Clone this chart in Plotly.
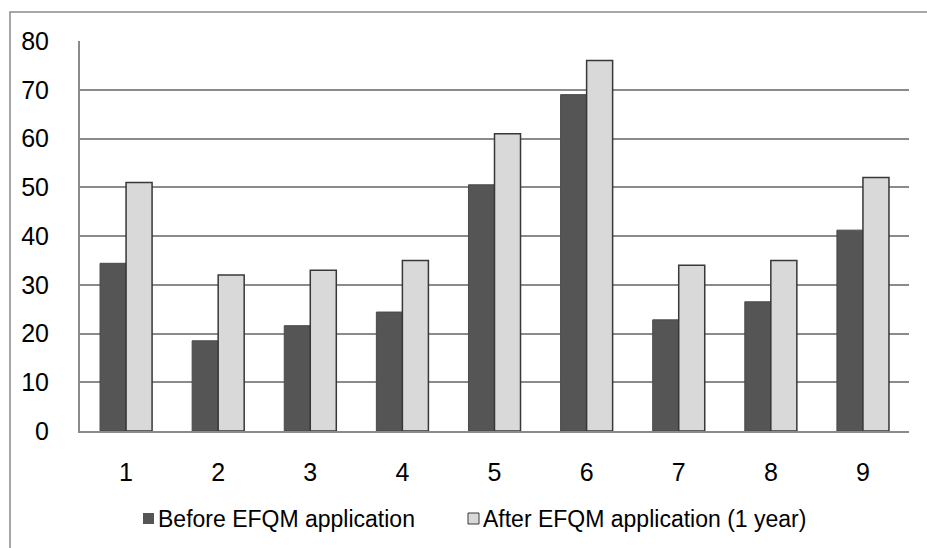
import plotly.graph_objects as go

# Data
categories = ["1", "2", "3", "4", "5", "6", "7", "8", "9"]
before_efqm = [34.4, 18.5, 21.6, 24.4, 50.5, 69.0, 22.8, 26.5, 41.2]
after_efqm = [51, 32, 33, 35, 61, 76, 34, 35, 52]
series_names = ["Before EFQM application", "After EFQM application (1 year)"]
y_ticks = [0, 10, 20, 30, 40, 50, 60, 70, 80]

W, H = 927, 548
M_L, M_R, M_T, M_B = 80, 18, 41, 117
plot_w = W - M_L - M_R
plot_h = H - M_T - M_B


def px_x(x):
    """Page pixel x -> paper x of the plot area."""
    return (x - M_L) / plot_w


def px_y(y):
    """Page pixel y -> paper y of the plot area."""
    return (H - M_B - y) / plot_h


FONT = "Liberation Sans, Arial, sans-serif"
GRID = "#8a8a8a"
DARK = "#555555"
DARK_EDGE = "#4a4a4a"
LIGHT = "#d9d9d9"
LIGHT_EDGE = "#383838"

fig = go.Figure()
fig.add_trace(go.Bar(
    x=categories, y=before_efqm, name=series_names[0],
    marker=dict(color=DARK, line=dict(color=DARK_EDGE, width=1)),
))
fig.add_trace(go.Bar(
    x=categories, y=after_efqm, name=series_names[1],
    marker=dict(color=LIGHT, line=dict(color=LIGHT_EDGE, width=1.5)),
))

shapes = []
annotations = []

# Outer chart-area frame
shapes.append(dict(type="rect", xref="paper", yref="paper",
                   x0=px_x(10), y0=-1.0, x1=1.2, y1=px_y(12),
                   line=dict(color=GRID, width=1.5),
                   fillcolor="rgba(0,0,0,0)", layer="below"))

# Legend: swatch + label for each series
legend_items = [
    (series_names[0], 143, DARK, DARK_EDGE, 0),
    (series_names[1], 468, LIGHT, LIGHT_EDGE, 1),
]
for name, sx, fill, edge, lw in legend_items:
    shapes.append(dict(type="rect", xref="paper", yref="paper",
                       x0=px_x(sx), x1=px_x(sx + 11),
                       y0=px_y(524), y1=px_y(513),
                       fillcolor=fill, line=dict(color=edge, width=lw)))
    annotations.append(dict(xref="paper", yref="paper",
                            x=px_x(sx + 13), y=px_y(519),
                            xanchor="left", yanchor="middle",
                            text=name, showarrow=False,
                            font=dict(family=FONT, size=23, color="black")))

fig.update_layout(
    width=W, height=H,
    margin=dict(l=M_L, r=M_R, t=M_T, b=M_B),
    paper_bgcolor="white", plot_bgcolor="white",
    font=dict(family=FONT, size=25, color="black"),
    barmode="group", bargap=0.435, bargroupgap=0,
    showlegend=False,
    shapes=shapes, annotations=annotations,
    xaxis=dict(type="category", showgrid=False, showline=True,
               linecolor=GRID, linewidth=2, ticks="", ticklabelstandoff=18,
               tickfont=dict(size=25)),
    yaxis=dict(range=[0, 80], tickvals=y_ticks, showgrid=True,
               gridcolor=GRID, gridwidth=2, showline=True, linecolor=GRID,
               linewidth=2, ticks="", ticklabelstandoff=24, zeroline=False,
               tickfont=dict(size=25)),
)

fig.write_html("out.html")
